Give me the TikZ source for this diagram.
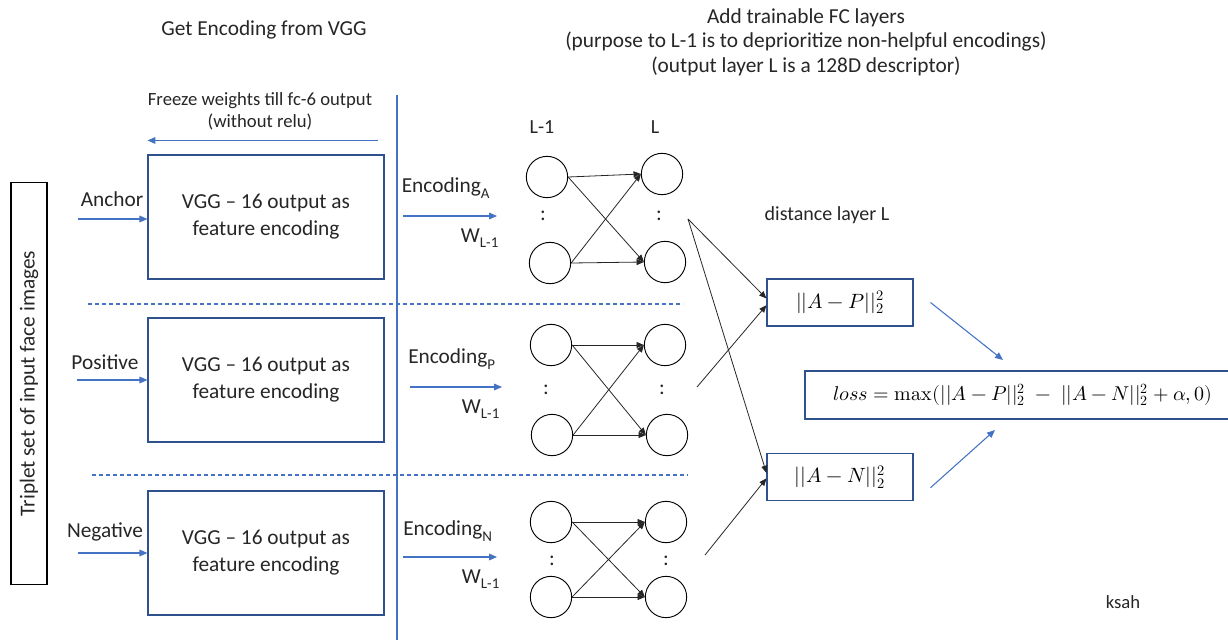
\documentclass[tikz,border=0pt]{standalone}
\usepackage{fontspec}
\usepackage{unicode-math}
\setmainfont{Carlito}
\setmathfont{Latin Modern Math}
\usetikzlibrary{arrows.meta}
\definecolor{lineblue}{HTML}{4472C4}
\definecolor{frameblue}{HTML}{2F528F}
\definecolor{ink}{HTML}{262626}
\newcommand\opmax{\mathop{\symup{max}}\nolimits}

\begin{document}
\begin{tikzpicture}[x=0.75pt,y=-0.75pt,
  lbl/.style={text=ink,font=\fontsize{16}{19.2}\selectfont,inner sep=0pt},
  midlbl/.style={text=ink,font=\fontsize{15}{18}\selectfont,inner sep=0pt},
  smalllbl/.style={text=ink,font=\fontsize{14}{16.5}\selectfont,inner sep=0pt},
  feed/.style={draw=lineblue,line width=0.8pt,-{Triangle[length=6pt,width=5pt]}},
  vggbox/.style={draw=frameblue,line width=0.8pt,minimum width=177pt,minimum height=93pt,
    align=center,text=ink,font=\fontsize{16}{20.25}\selectfont},
  neuron/.style={circle,draw=black,line width=0.7pt,minimum size=31pt,inner sep=0pt},
  wire/.style={draw=black!85,line width=0.6pt,-{Triangle[length=5.5pt,width=4.5pt]}},
  divider/.style={draw=lineblue,line width=0.8pt,dash pattern=on 3pt off 2.25pt},
  distbox/.style={draw=frameblue,line width=0.8pt,minimum width=109.5pt,minimum height=35.25pt,
    text=black,font=\fontsize{15.5}{18.6}\selectfont},
]
\useasboundingbox (0,0) rectangle (1228,640);

% headings
\node[lbl] (hvgg) at (264,30) {Get Encoding from VGG};
\node[lbl,align=center,font=\fontsize{16}{18.4}\selectfont] (hfc) at (806,42)
  {Add trainable FC layers\\(purpose to L-1 is to deprioritize non-helpful encodings)\\(output layer L is a 128D descriptor)};

% input set
\node[draw=black,line width=0.8pt,rotate=90,minimum width=302pt,minimum height=27pt,
  text=ink,font=\fontsize{16}{19.2}\selectfont] (triplet) at (29,383.5) {Triplet set of input face images};

% frozen VGG part
\node[vggbox] (vgga) at (266,217) {VGG -- 16 output as\\feature encoding};
\node[vggbox] (vggp) at (266,380) {VGG -- 16 output as\\feature encoding};
\node[vggbox] (vggn) at (266,553) {VGG -- 16 output as\\feature encoding};

\node[smalllbl,align=center] (freeze) at (260,111) {Freeze weights till fc-6 output\\(without relu)};
\draw[feed] ([shift={(-7,-14)}]vgga.north east) -- ([shift={(0,-14)}]vgga.north west);

\draw[draw=lineblue,line width=0.9pt] (397,95) -- (397,640);
\draw[divider] (88,304) -- (683,304);
\draw[divider] (92,475) -- (688,475);

% inputs
\node[lbl] (anchor) at (112,199) {Anchor};
\node[lbl] (positive) at (105,362) {Positive};
\node[lbl] (negative) at (105,532) {Negative};
\coordinate (ina) at (78,219);
\coordinate (inp) at (77,380);
\coordinate (inn) at (78,553);
\draw[feed] (ina) -- (ina -| vgga.west);
\draw[feed] (inp) -- (inp -| vggp.west);
\draw[feed] (inn) -- (inn -| vggn.west);

% encodings into the trainable layers
\node[lbl] (enca) at (446,188) {Encoding\textsubscript{A}};
\node[lbl] (wa) at (480,238) {W\textsubscript{L-1}};
\coordinate (ea0) at (403,216); \coordinate (ea1) at (497,216);
\draw[feed] (ea0) -- (ea1);

\node[lbl] (encp) at (452,359) {Encoding\textsubscript{P}};
\node[lbl] (wp) at (481,409) {W\textsubscript{L-1}};
\coordinate (ep0) at (410,387); \coordinate (ep1) at (502,387);
\draw[feed] (ep0) -- (ep1);

\node[lbl] (encn) at (448,531) {Encoding\textsubscript{N}};
\node[lbl] (wn) at (481,579) {W\textsubscript{L-1}};
\coordinate (en0) at (403,557); \coordinate (en1) at (497,557);
\draw[feed] (en0) -- (en1);

\node[midlbl] (lm1) at (542,127) {L-1};
\node[midlbl] (ll) at (655,127) {L};

% FC layers L-1 -> L
\foreach \n/\ax/\ay/\bx/\by/\cx/\cy/\dx/\dy/\px/\py/\qx/\qy in {
  a/547/177/550/263/662/174/665/262/543/216/659/216,
  p/551/345/552/435/665/345/667/435/546/390/662/390,
  n/551/522/551/597/666/522/666/597/552/561/666/561}{
  \node[neuron] (\n-lt) at (\ax,\ay) {};
  \node[neuron] (\n-lb) at (\bx,\by) {};
  \node[neuron] (\n-rt) at (\cx,\cy) {};
  \node[neuron] (\n-rb) at (\dx,\dy) {};
  \node[lbl] (\n-ld) at (\px,\py) {:};
  \node[lbl] (\n-rd) at (\qx,\qy) {:};
  \draw[wire] (\n-lt.east) -- (\n-rt.west);
  \draw[wire] (\n-lt.east) -- (\n-rb.west);
  \draw[wire] (\n-lb.east) -- (\n-rt.west);
  \draw[wire] (\n-lb.east) -- (\n-rb.west);
}

% distance layer
\node[midlbl] (dist) at (827,215) {distance layer L};
\node[distbox] (dap) at (840,302.5) {$||A-P||_2^2$};
\node[distbox] (dan) at (840,477) {$||A-N||_2^2$};
\coordinate (aout) at (688,219);
\coordinate (pout) at (697,387);
\coordinate (nout) at (705,555);
\draw[wire] (aout) -- ([yshift=3pt]dap.west);
\draw[wire] (pout) -- ([yshift=-2pt]dap.west);
\draw[wire] (aout) -- ([yshift=3pt]dan.west);
\draw[wire] (nout) -- ([yshift=-1pt]dan.west);

% loss
\node[draw=frameblue,line width=0.8pt,minimum width=327pt,minimum height=36pt,
  text=black,font=\fontsize{15}{18}\selectfont] (loss) at (1023,395)
  {$loss = \opmax(||A-P||_2^2\;-\;||A-N||_2^2+\alpha, 0)$};
\coordinate (lin1) at (1003,360);
\coordinate (lin2) at (995,430);
\draw[feed] ([xshift=12.75pt]dap.east) -- (lin1);
\draw[feed] ([xshift=12.75pt,yshift=-8pt]dan.east) -- (lin2);

\node[smalllbl] (author) at (1123,602) {ksah};
\end{tikzpicture}
\end{document}
